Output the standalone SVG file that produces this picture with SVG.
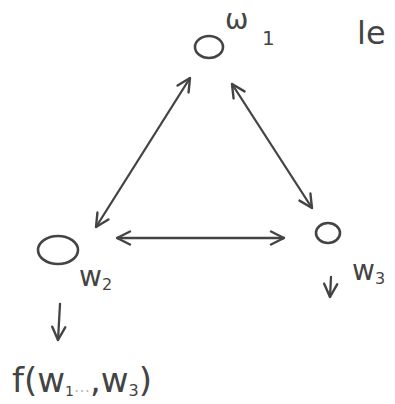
<svg xmlns="http://www.w3.org/2000/svg" width="395" height="404" viewBox="0 0 395 404">
<defs>
<marker id="ah" viewBox="0 0 16 16" refX="15" refY="8" markerWidth="16" markerHeight="16" markerUnits="userSpaceOnUse" orient="auto-start-reverse">
<path d="M2,1.5 L15,8 L2,14.5" fill="none" stroke="#444" stroke-width="2.4" stroke-linecap="round" stroke-linejoin="round"/>
</marker>
<style>
.n{fill:none;stroke:#444;stroke-width:2.6}
.e{fill:none;stroke:#444;stroke-width:2.3;stroke-linecap:round}
.t{font-family:"DejaVu Sans","Liberation Sans",sans-serif;fill:#444}
</style>
</defs>
<rect width="395" height="404" fill="#fff"/>
<g id="connectors">
<path class="e" d="M190,78 L96,227" marker-start="url(#ah)" marker-end="url(#ah)"/>
<path class="e" d="M232,84 L312,208" marker-start="url(#ah)" marker-end="url(#ah)"/>
<path class="e" d="M117,238 L284,238" marker-start="url(#ah)" marker-end="url(#ah)"/>
<path class="e" d="M60,304 L58,340" marker-end="url(#ah)"/>
<path class="e" d="M331,277 L330,297" marker-end="url(#ah)"/>
</g>
<g id="w1">
<ellipse class="n" cx="209" cy="47" rx="14" ry="11"/>
<text class="t" x="225" y="29" font-size="28">ω</text>
<text class="t" x="262" y="45" font-size="20">1</text>
</g>
<g id="le">
<text class="t" x="357" y="44" font-size="32">le</text>
</g>
<g id="w2">
<ellipse class="n" cx="58" cy="250" rx="20" ry="14"/>
<text class="t" x="79" y="286" font-size="28">w<tspan font-size="16" dy="4">2</tspan></text>
</g>
<g id="w3">
<ellipse class="n" cx="328" cy="233" rx="12" ry="10"/>
<text class="t" x="352" y="280" font-size="28">w<tspan font-size="16" dy="4">3</tspan></text>
</g>
<g id="f">
<text class="t" x="12" y="392" font-size="34">f(w<tspan font-size="14" dy="4">1</tspan><tspan dy="-4" font-size="16" fill="#bbb">…</tspan>,w<tspan font-size="16" dy="4">3</tspan><tspan dy="-4">)</tspan></text>
</g>
</svg>
